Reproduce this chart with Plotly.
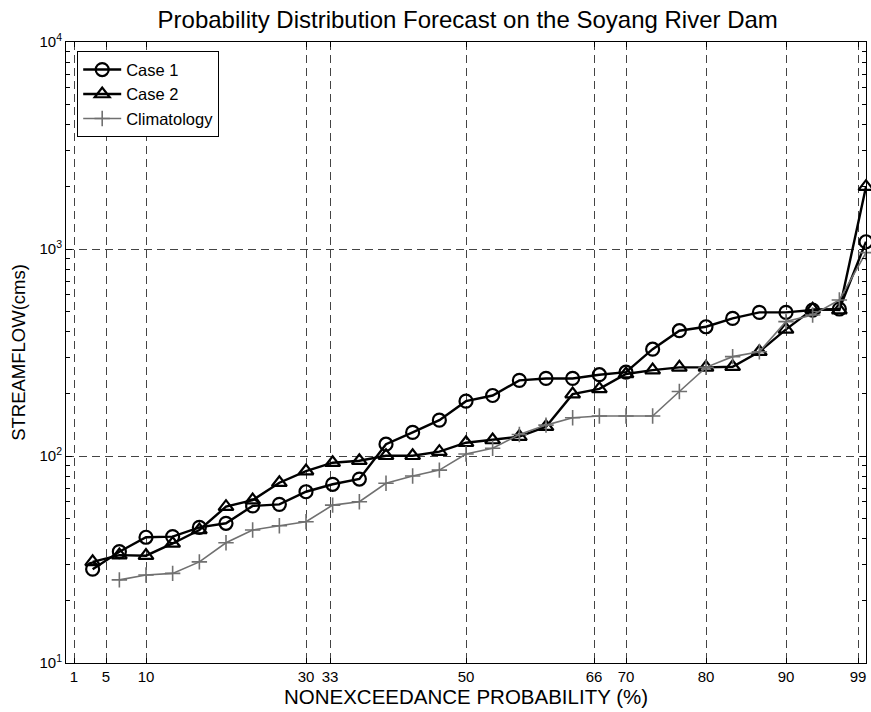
import plotly.graph_objects as go

# ---- data ----
x_case = [3.33, 6.67, 10.0, 13.33, 16.67, 20.0, 23.33, 26.67, 30.0, 33.33,
          36.67, 40.0, 43.33, 46.67, 50.0, 53.33, 56.67, 60.0, 63.33, 66.67,
          70.0, 73.33, 76.67, 80.0, 83.33, 86.67, 90.0, 93.33, 96.67, 100.0]
case1 = [28.4, 34.5, 40.5, 40.8, 45.2, 47.3, 57.4, 58.4, 67.2, 73.0,
         77.4, 114, 130, 149, 184, 196, 232, 237, 237, 247,
         254, 328, 403, 421, 462, 494, 494, 507, 513, 1084]
case2 = [30.8, 33.2, 33.0, 37.8, 43.9, 56.9, 61.2, 74.3, 84.6, 92.8,
         94.9, 100.3, 100.3, 104.9, 115.9, 119.5, 124, 138.5, 199, 211,
         249, 260, 268, 268, 270, 319, 409, 511, 507, 2000]
x_clim = [6.67, 10.0, 13.33, 16.67, 20.0, 23.33, 26.67, 30.0, 33.33,
          36.67, 40.0, 43.33, 46.67, 50.0, 53.33, 56.67, 60.0, 63.33, 66.67,
          70.0, 73.33, 76.67, 80.0, 83.33, 86.67, 90.0, 93.33, 96.67, 100.0]
clim = [25.2, 26.6, 27.1, 30.8, 38.1, 43.9, 46.0, 48.1, 57.9,
        60.1, 73.8, 80.0, 85.5, 102.3, 109, 127, 141, 153, 156,
        156, 156, 205, 268, 302, 319, 446, 480, 567, 960]

x_ticks = [1, 5, 10, 30, 33, 50, 66, 70, 80, 90, 99]
y_ticks = [10, 100, 1000, 10000]
y_ticktext = ["10<sup>1</sup>", "10<sup>2</sup>", "10<sup>3</sup>", "10<sup>4</sup>"]
y_minor = [m * d for d in (10, 100, 1000) for m in range(2, 10)]

FONT = "Liberation Sans, Arial, sans-serif"

fig = go.Figure()
fig.add_trace(go.Scatter(
    x=x_case, y=case1, name="Case 1", mode="lines+markers",
    line=dict(color="black", width=2.4),
    marker=dict(symbol="circle-open", size=13, color="black", line=dict(width=2.2)),
    cliponaxis=False))
fig.add_trace(go.Scatter(
    x=x_case, y=case2, name="Case 2", mode="lines+markers",
    line=dict(color="black", width=2.4),
    marker=dict(symbol="triangle-up-open", size=13, color="black", line=dict(width=2.2)),
    cliponaxis=False))
fig.add_trace(go.Scatter(
    x=x_clim, y=clim, name="Climatology", mode="lines+markers",
    line=dict(color="#707070", width=1.6),
    marker=dict(symbol="cross-thin-open", size=11, color="#707070",
                line=dict(width=1.6, color="#707070")),
    cliponaxis=False))

fig.update_layout(
    width=871, height=712,
    margin=dict(l=66, r=5, t=42, b=49),
    paper_bgcolor="white", plot_bgcolor="white",
    font=dict(family=FONT, color="black", size=14),
    title=dict(text="Probability Distribution Forecast on the Soyang River Dam",
               x=0.537, xanchor="center", y=0.972, yanchor="middle",
               font=dict(size=24, family=FONT, color="black")),
    showlegend=True,
    legend=dict(x=0.014, y=0.985, xanchor="left", yanchor="top",
                bgcolor="white", bordercolor="black", borderwidth=1,
                font=dict(size=16.5, family=FONT, color="black"),
                itemwidth=38, tracegroupgap=0),
)
fig.update_xaxes(
    range=[0, 100], tickmode="array", tickvals=x_ticks,
    showgrid=True, gridcolor="#444", gridwidth=1, griddash="8px,5px",
    showline=True, linecolor="black", linewidth=1, mirror="ticks",
    ticks="inside", ticklen=5, tickcolor="black", zeroline=False,
    tickfont=dict(size=15, family=FONT, color="black"),
    title=dict(text="NONEXCEEDANCE PROBABILITY (%)", standoff=2,
               font=dict(size=20.5, family=FONT, color="black")))
fig.update_yaxes(
    type="log", range=[1, 4], tickmode="array", tickvals=y_ticks, ticktext=y_ticktext,
    showgrid=True, gridcolor="#444", gridwidth=1, griddash="8px,5px",
    showline=True, linecolor="black", linewidth=1, mirror="ticks",
    ticks="inside", ticklen=6, tickcolor="black", zeroline=False,
    minor=dict(tickmode="array", tickvals=y_minor, ticks="inside", ticklen=4,
               tickcolor="black", showgrid=False),
    tickfont=dict(size=15, family=FONT, color="black"),
    title=dict(text="STREAMFLOW(cms)", standoff=8,
               font=dict(size=18.5, family=FONT, color="black")))

fig.write_html("out.html")
